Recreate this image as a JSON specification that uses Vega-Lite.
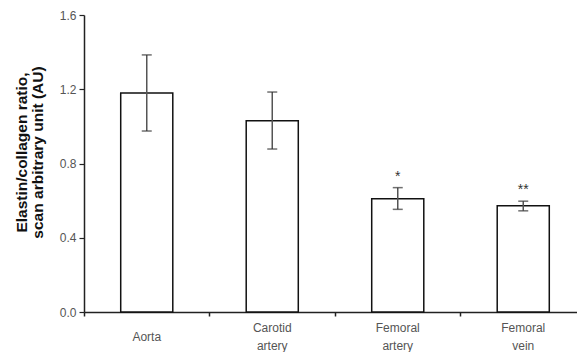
{
  "$schema": "https://vega.github.io/schema/vega-lite/v6.json",
  "autosize": "none",
  "width": 493,
  "height": 297,
  "padding": {"left": 84, "top": 15, "right": 0, "bottom": 40},
  "background": "white",
  "config": {
    "view": {"stroke": null},
    "font": "Liberation Sans"
  },
  "data": {
    "values": [
      {"tissue": "Aorta", "mean": 1.18, "lower": 0.975, "upper": 1.385, "sig": ""},
      {"tissue": "Carotid artery", "mean": 1.03, "lower": 0.878, "upper": 1.185, "sig": ""},
      {"tissue": "Femoral artery", "mean": 0.61, "lower": 0.553, "upper": 0.67, "sig": "*"},
      {"tissue": "Femoral vein", "mean": 0.572, "lower": 0.545, "upper": 0.597, "sig": "**"}
    ]
  },
  "encoding": {
    "x": {
      "field": "tissue",
      "type": "nominal",
      "sort": null,
      "scale": {"range": [0, 502], "paddingInner": 0, "paddingOuter": 0},
      "axis": {
        "title": null,
        "bandPosition": 0,
        "labelAngle": 0,
        "labelExpr": "split(datum.label, ' ')",
        "labelFontSize": 12,
        "labelColor": "#555555",
        "labelBaseline": "middle",
        "labelPadding": {"condition": {"test": "datum.label == 'Aorta'", "value": 20}, "value": 11},
        "labelLineHeight": 18,
        "domainColor": "#222222",
        "domainWidth": 1.5,
        "tickColor": "#222222",
        "tickWidth": 1.5,
        "tickSize": 4,
        "grid": false
      }
    }
  },
  "layer": [
    {
      "mark": {"type": "bar", "fill": "white", "stroke": "#111111", "strokeWidth": 1.5, "width": {"band": 0.415}},
      "encoding": {
        "y": {
          "field": "mean",
          "type": "quantitative",
          "scale": {"domain": [0, 1.6], "nice": false},
          "axis": {
            "values": [0, 0.2, 0.4, 0.6, 0.8, 1.0, 1.2, 1.4, 1.6],
            "labelExpr": "round(datum.value * 10) % 4 == 0 ? format(datum.value, '.1f') : ''",
            "labelFontSize": 12,
            "labelColor": "#555555",
            "labelPadding": 3,
            "domainColor": "#222222",
            "domainWidth": 1.5,
            "tickColor": "#222222",
            "tickWidth": 1.2,
            "tickSize": 5,
            "grid": false,
            "title": ["Elastin/collagen ratio,", "scan arbitrary unit (AU)"],
            "titleFontSize": 15.5,
            "titleFontWeight": "bold",
            "titleColor": "#111111",
            "titleLineHeight": 16,
            "titleAngle": -90,
            "titleAlign": "center",
            "titleBaseline": "middle",
            "titleX": -63,
            "titleY": 137
          }
        }
      }
    },
    {
      "mark": {"type": "rule", "color": "#555555", "strokeWidth": 1.5},
      "encoding": {
        "y": {"field": "lower", "type": "quantitative"},
        "y2": {"field": "upper"}
      }
    },
    {
      "mark": {"type": "tick", "color": "#333333", "thickness": 1.5, "size": 10, "orient": "horizontal"},
      "encoding": {"y": {"field": "lower", "type": "quantitative"}}
    },
    {
      "mark": {"type": "tick", "color": "#333333", "thickness": 1.5, "size": 10, "orient": "horizontal"},
      "encoding": {"y": {"field": "upper", "type": "quantitative"}}
    },
    {
      "mark": {"type": "text", "fontSize": 14, "color": "#333333", "baseline": "bottom", "dy": -4},
      "encoding": {
        "y": {"field": "upper", "type": "quantitative"},
        "text": {"field": "sig"}
      }
    }
  ]
}
